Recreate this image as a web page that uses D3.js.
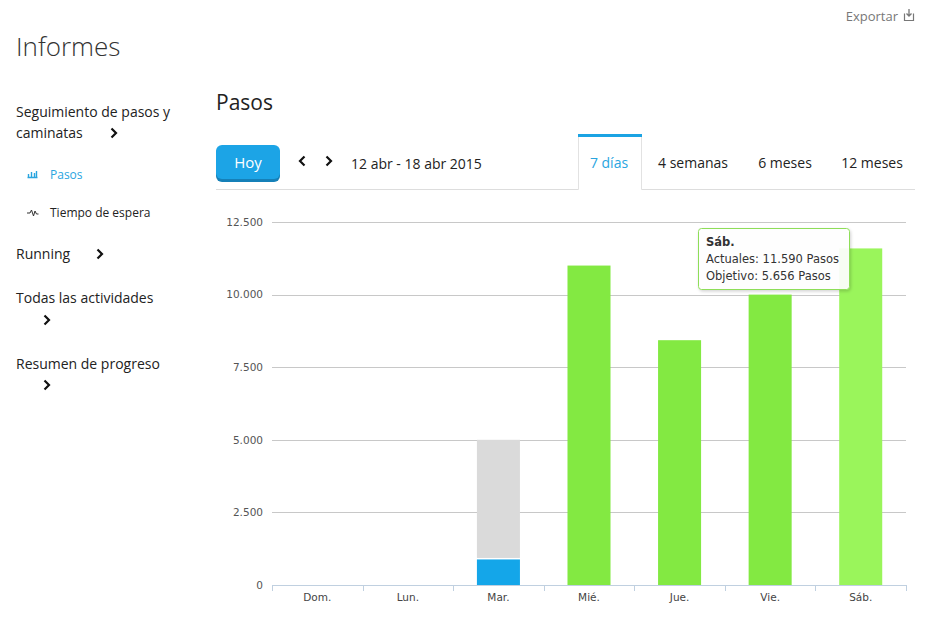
<!DOCTYPE html>
<html><head><meta charset="utf-8">
<script src="https://cdn.jsdelivr.net/npm/d3@7/dist/d3.min.js"></script>
<style>
html,body{margin:0;padding:0;background:#fff;}
svg{display:block;}
</style></head>
<body>
<svg id="c" width="937" height="627"></svg>
<script>
const days = ["Dom.","Lun.","Mar.","Mié.","Jue.","Vie.","Sáb."];
const actual = [0,0,880,11000,8430,10000,11590];
const goal = [0,0,5000,5000,5000,5000,5656];
const yTicks = [0,2500,5000,7500,10000,12500];
const tabs = ["7 días","4 semanas","6 meses","12 meses"];
const menu = ["Seguimiento de pasos y","caminatas","Running","Todas las actividades","Resumen de progreso"];
const hovered = 6;

const svg = d3.select("#c");
const F = "'Open Sans', sans-serif";
const G = "'DejaVu Sans', Verdana, sans-serif";
const fmt = v => d3.format(",")(v).replace(/,/g,".");

function chevron(x,y,dir,s){ // dir 1 right, -1 left
  s = s||1;
  const p = d3.path();
  p.moveTo(x - dir*2.5*s, y-4.5*s); p.lineTo(x + dir*2*s, y); p.lineTo(x - dir*2.5*s, y+4.5*s);
  svg.append("path").attr("d",p.toString()).attr("fill","none").attr("stroke","#111").attr("stroke-width",2.2);
}

// Header
svg.append("text").attr("x",16).attr("y",56).attr("font-family",F).attr("font-size",26).attr("font-weight",300).attr("fill","#333").text("Informes");
svg.append("text").attr("x",898).attr("y",21).attr("text-anchor","end").attr("font-family",F).attr("font-size",13).attr("fill","#777").text("Exportar");
// export icon
svg.append("path").attr("d","M904.5,13.5 v7 h9 v-7").attr("fill","none").attr("stroke","#777").attr("stroke-width",1.2);
svg.append("path").attr("d","M909,9 v7 M906.5,13.5 l2.5,2.5 l2.5,-2.5").attr("fill","none").attr("stroke","#777").attr("stroke-width",1.3);

// Left menu
const mt = (t,x,y,size,col)=>svg.append("text").attr("x",x).attr("y",y).attr("font-family",F).attr("font-size",size).attr("fill",col||"#222").text(t);
mt(menu[0],16,117,14);
mt(menu[1],16,138,14); chevron(114,133,1);
mt("Pasos",50,179,12,"#2aa5df");
// bar icon
[[28,3],[31,5],[34,3]].forEach(d=>{});
svg.append("path").attr("d","M27.5,177.5 h10 M28.5,177 v-3 M31.5,177 v-5 M34.5,177 v-4 M36.5,177 v-6").attr("stroke","#2aa5df").attr("stroke-width",1.4).attr("fill","none");
mt("Tiempo de espera",50,217,12);
svg.append("path").attr("d","M27,213 h3 l1.5,-3 l2,6 l1.5,-5 l1.5,3 h2").attr("stroke","#333").attr("stroke-width",1).attr("fill","none");
mt(menu[2],16,259,14); chevron(100,254,1);
mt(menu[3],16,303,14); chevron(47,320,1);
mt(menu[4],16,369,14); chevron(47,385,1);

// Title
svg.append("text").attr("x",216).attr("y",110).attr("font-family",F).attr("font-size",21).attr("fill","#222").text("Pasos");

// Hoy button
svg.append("rect").attr("x",216).attr("y",147).attr("width",64).attr("height",35).attr("rx",6).attr("fill","#1580b8");
svg.append("rect").attr("x",216).attr("y",145).attr("width",64).attr("height",34).attr("rx",6).attr("fill","#1ca4e6");
svg.append("text").attr("x",248).attr("y",167.5).attr("text-anchor","middle").attr("font-family",F).attr("font-size",15).attr("fill","#fff").text("Hoy");
chevron(302,161,-1); chevron(329,161,1);
svg.append("text").attr("x",351).attr("y",169).attr("font-family",F).attr("font-size",14).attr("fill","#222").text("12 abr - 18 abr 2015");

// Tabs
svg.append("path").attr("d","M216,189.5 H578.5 M641.5,189.5 H915").attr("stroke","#ddd").attr("stroke-width",1);
svg.append("path").attr("d","M578.5,137 V189.5 M641.5,137 V189.5").attr("stroke","#e2e2e2").attr("stroke-width",1);
svg.append("rect").attr("x",578).attr("y",134).attr("width",64).attr("height",3).attr("fill","#1ba3e3");
const tabX = [609,693,785,872];
tabs.forEach((t,i)=>svg.append("text").attr("x",tabX[i]).attr("y",168).attr("text-anchor","middle").attr("font-family",F).attr("font-size",14).attr("fill",i===0?"#2aa5df":"#222").text(t));

// Chart
const x = d3.scaleBand().domain(days).range([272,906]).paddingInner(0.525).paddingOuter(0.2625);
const y = d3.scaleLinear().domain([0,12500]).range([585,222]);

const grid = svg.append("g");
grid.selectAll("line").data(yTicks.filter(d=>d>0)).join("line")
  .attr("x1",272).attr("x2",906).attr("y1",d=>Math.round(y(d))+0.5).attr("y2",d=>Math.round(y(d))+0.5)
  .attr("stroke","#c8c8c8").attr("stroke-width",1);

const yAxis = svg.append("g").attr("transform","translate(272,0)")
  .call(d3.axisLeft(y).tickValues(yTicks).tickSize(0).tickPadding(9).tickFormat(fmt));
yAxis.select(".domain").remove();
yAxis.selectAll("text").attr("font-family",G).attr("font-size",10.5).attr("fill","#555");

// bars
const bars = svg.append("g");
days.forEach((d,i)=>{
  const a = actual[i], g = goal[i];
  if (g > a) {
    bars.append("rect").attr("x",x(d)).attr("width",x.bandwidth())
      .attr("y",y(g)).attr("height",y(a)-y(g)-1.5).attr("fill","#dadada");
  }
  if (a > 0) {
    const col = a >= g ? (i===hovered ? "#9af55b" : "#83e942") : "#14a6e9";
    bars.append("rect").attr("x",x(d)).attr("width",x.bandwidth())
      .attr("y",y(a)).attr("height",y(0)-y(a)).attr("fill",col);
  }
});

const xAxis = svg.append("g").attr("transform","translate(0,585)")
  .call(d3.axisBottom(x).tickSize(0).tickPadding(9));
xAxis.select(".domain").attr("stroke","#c0d0e0").attr("d","M272,0.5H906");
xAxis.selectAll("text").attr("font-family",G).attr("font-size",10.5).attr("fill","#444");
const bounds = days.map(d=>x(d)-x.step()*x.paddingInner()/2).concat([906]);
svg.append("g").selectAll("line").data(bounds).join("line")
  .attr("x1",d=>Math.round(d)+0.5).attr("x2",d=>Math.round(d)+0.5).attr("y1",585).attr("y2",591)
  .attr("stroke","#c0d0e0");

// Tooltip
const defs = svg.append("defs");
const f = defs.append("filter").attr("id","sh").attr("x","-10%").attr("y","-10%").attr("width","130%").attr("height","140%");
f.append("feDropShadow").attr("dx",1).attr("dy",1.5).attr("stdDeviation",1.5).attr("flood-color","#000").attr("flood-opacity",0.18);
const tt = svg.append("g");
tt.append("rect").attr("x",698.5).attr("y",228.5).attr("width",151).attr("height",61).attr("rx",3)
  .attr("fill","rgba(255,255,255,0.92)").attr("stroke","#8ede58").attr("stroke-width",1).attr("filter","url(#sh)");
tt.append("text").attr("x",706).attr("y",246).attr("font-family",G).attr("font-size",11.5).attr("font-weight","bold").attr("fill","#333").text(days[hovered]);
tt.append("text").attr("x",706).attr("y",263).attr("font-family",G).attr("font-size",11.5).attr("fill","#333").text("Actuales: " + fmt(actual[hovered]) + " Pasos");
tt.append("text").attr("x",706).attr("y",280).attr("font-family",G).attr("font-size",11.5).attr("fill","#333").text("Objetivo: " + fmt(goal[hovered]) + " Pasos");
</script>
</body></html>
